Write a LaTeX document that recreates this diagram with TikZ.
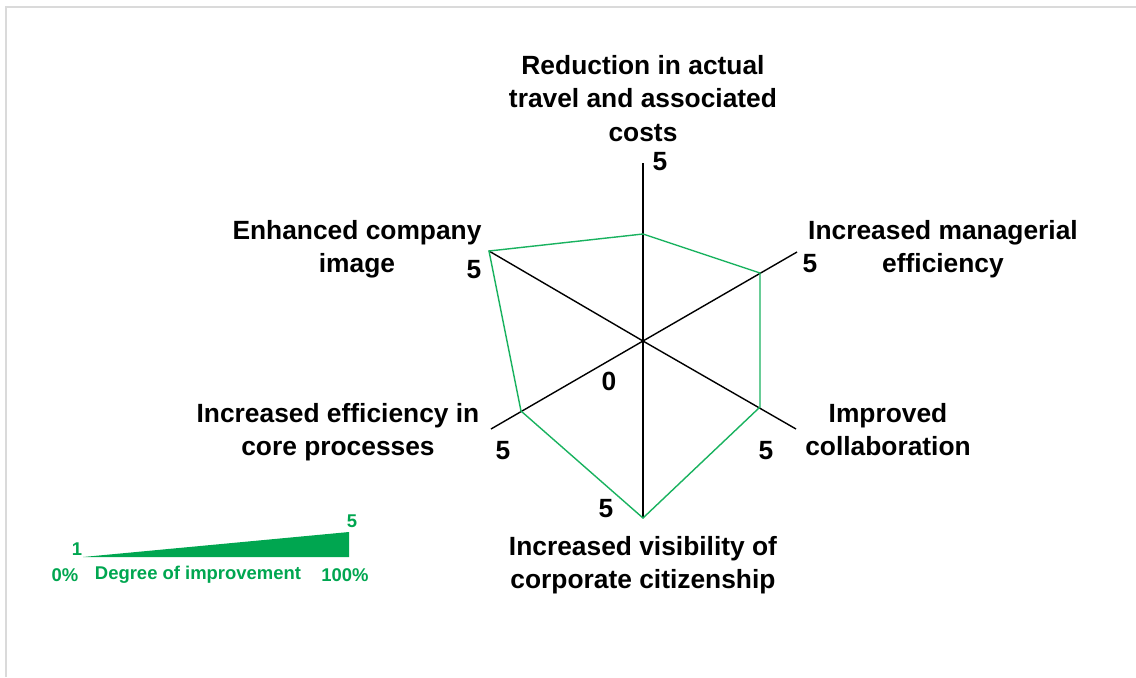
\documentclass[tikz,border=0pt]{standalone}
\usepackage{fontspec}
\setmainfont{Liberation Sans}
\definecolor{chartgreen}{RGB}{25,178,95}
\definecolor{legendgreen}{RGB}{0,166,80}
\definecolor{framegray}{RGB}{218,218,218}

\begin{document}
\begin{tikzpicture}[x=0.02cm, y=-0.02cm, font=\bfseries\fontsize{15}{19}\selectfont,
	axis/.style={line width=0.8pt, black},
	level/.style={line width=0.8pt, chartgreen, line join=miter},
	caption/.style={align=center, inner sep=0pt, anchor=north},
	tick/.style={inner sep=0pt},
	legend/.style={inner sep=0pt, text=legendgreen, font=\bfseries\fontsize{10.5}{12}\selectfont}]
	
	\useasboundingbox (0,0) rectangle (1136,677);
	\draw[framegray, line width=1.2pt] (6,677) -- (6,7) -- (1136,7);
	
	% Các trục
	\coordinate (c) at (643,341);
	\coordinate (a1) at (643,163);
	\coordinate (a2) at (797,252);
	\coordinate (a3) at (796,429);
	\coordinate (a4) at (643,518);
	\coordinate (a5) at (491,429);
	\coordinate (a6) at (489,251);
	\foreach \i in {1,...,6}
		\draw[axis] (c) -- (a\i);
	
	% Mức đánh giá
	\coordinate (v1) at (643,234);
	\coordinate (v2) at (760,273);
	\coordinate (v3) at (760,407);
	\coordinate (v4) at (643,518);
	\coordinate (v5) at (521,411);
	\coordinate (v6) at (489,251);
	\draw[level] (v1) -- (v2) -- (v3) -- (v4) -- (v5) -- (v6) -- cycle;
	
	% Nhãn trục
	\node[caption] (travel) at (643,55) {Reduction in actual\\travel and associated\\costs};
	\node[caption] (managerial) at (943,220) {Increased managerial\\efficiency};
	\node[caption] (collab) at (888,403) {Improved\\collaboration};
	\node[caption] (visibility) at (643,536) {Increased visibility of\\corporate citizenship};
	\node[caption] (core) at (338,403) {Increased efficiency in\\core processes};
	\node[caption] (image) at (357,220) {Enhanced company\\image};
	
	% Giá trị
	\node[tick] (t1) at (660,162) {5};
	\node[tick] (t2) at (810,264) {5};
	\node[tick] (t3) at (766,451) {5};
	\node[tick] (t4) at (606,509) {5};
	\node[tick] (t5) at (503,451) {5};
	\node[tick] (t6) at (474,270) {5};
	\node[tick] (t0) at (609,381) {0};
	
	% Chú thích
	\fill[legendgreen] (83,557) -- (349,532) -- (349,557) -- cycle;
	\node[legend] (low) at (77,549) {1};
	\node[legend] (high) at (352,521) {5};
	\node[legend] (zero) at (65,575) {0\%};
	\node[legend] (degree) at (198,575) {Degree of improvement};
	\node[legend] (full) at (345,575) {100\%};
\end{tikzpicture}
\end{document}
